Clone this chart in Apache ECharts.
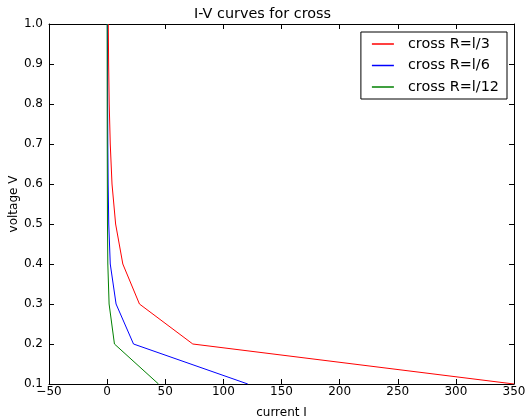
<!DOCTYPE html>
<html><head><meta charset="utf-8">
<script src="https://cdn.jsdelivr.net/npm/echarts@6/dist/echarts.min.js"></script>
<style>html,body{margin:0;padding:0;background:#fff}#c{width:525px;height:418px}</style>
</head><body><div id="c"></div>
<script>
const voltages = [0.1, 0.2, 0.3, 0.4, 0.5, 0.6, 0.7, 0.8, 0.9, 1.0];
const currentR3 = [350, 73.7, 27.8, 13.5, 7.3, 4.2, 2.7, 1.8, 1.3, 1.0];
const currentR6 = [121, 22.7, 7.7, 2.7, 1.4, 0.9, 0.6, 0.45, 0.35, 0.25];
const currentR12 = [44.2, 6.3, 1.7, 0.6, 0.3, 0.2, 0.1, 0.07, 0.05, 0.03];
const seriesNames = ['cross R=l/3', 'cross R=l/6', 'cross R=l/12'];
const seriesColors = ['#ff0000', '#0000ff', '#008000'];
const xTicks = {min: -50, max: 350, interval: 50};
const yTicks = {min: 0.1, max: 1.0, interval: 0.1};

const font = 'DejaVu Sans';
const chart = echarts.init(document.getElementById('c'));
const pairs = (xs) => xs.map((x, i) => [x, voltages[i]]);
const axisCommon = {
  axisLine: {show: true, onZero: false, lineStyle: {color: '#000', width: 1}},
  axisTick: {show: true, inside: true, length: 5, lineStyle: {color: '#000'}},
  splitLine: {show: false}
};
chart.setOption({
  animation: false,
  backgroundColor: '#fff',
  title: {text: 'I-V curves for cross', left: 'center', top: 2,
    textStyle: {fontFamily: font, fontSize: 14.4, fontWeight: 'normal', color: '#000'}},
  grid: {left: 49, right: 11, top: 24, bottom: 34, outerBoundsMode: 'none', containLabel: false},
  legend: {
    right: 18, top: 32, orient: 'vertical', itemWidth: 22, itemHeight: 1.5, itemGap: 5.5,
    icon: 'rect', borderColor: '#000', borderWidth: 1, borderRadius: 0, padding: [4, 8, 4, 11],
    backgroundColor: '#fff',
    textStyle: {fontFamily: font, fontSize: 14.4, lineHeight: 16, color: '#000', padding: [0, 0, 0, 9]},
    data: seriesNames
  },
  xAxis: [
    Object.assign({type: 'value', min: xTicks.min, max: xTicks.max, interval: xTicks.interval,
      position: 'bottom', name: 'current I', nameLocation: 'middle', nameGap: 23, nameMoveOverlap: false,
      nameTextStyle: {fontFamily: font, fontSize: 12, color: '#000'},
      axisLabel: {fontFamily: font, fontSize: 12, color: '#000', margin: 2,
        formatter: v => String(v).replace('-', '\u2212')}}, axisCommon),
    Object.assign({type: 'value', min: xTicks.min, max: xTicks.max, interval: xTicks.interval,
      position: 'top', axisLabel: {show: false}}, axisCommon)
  ],
  yAxis: [
    Object.assign({type: 'value', min: yTicks.min, max: yTicks.max, interval: yTicks.interval,
      position: 'left', name: 'voltage V', nameLocation: 'middle', nameGap: 29, nameMoveOverlap: false,
      nameTextStyle: {fontFamily: font, fontSize: 12, color: '#000'},
      axisLabel: {fontFamily: font, fontSize: 12, color: '#000', margin: 6,
        formatter: v => v.toFixed(1)}}, axisCommon),
    Object.assign({type: 'value', min: yTicks.min, max: yTicks.max, interval: yTicks.interval,
      position: 'right', axisLabel: {show: false}}, axisCommon)
  ],
  series: [currentR3, currentR6, currentR12].map((d, i) => ({
    name: seriesNames[i], type: 'line', data: pairs(d), symbol: 'none',
    xAxisIndex: 0, yAxisIndex: 0,
    lineStyle: {color: seriesColors[i], width: 1}, itemStyle: {color: seriesColors[i]}
  }))
});
</script></body></html>
